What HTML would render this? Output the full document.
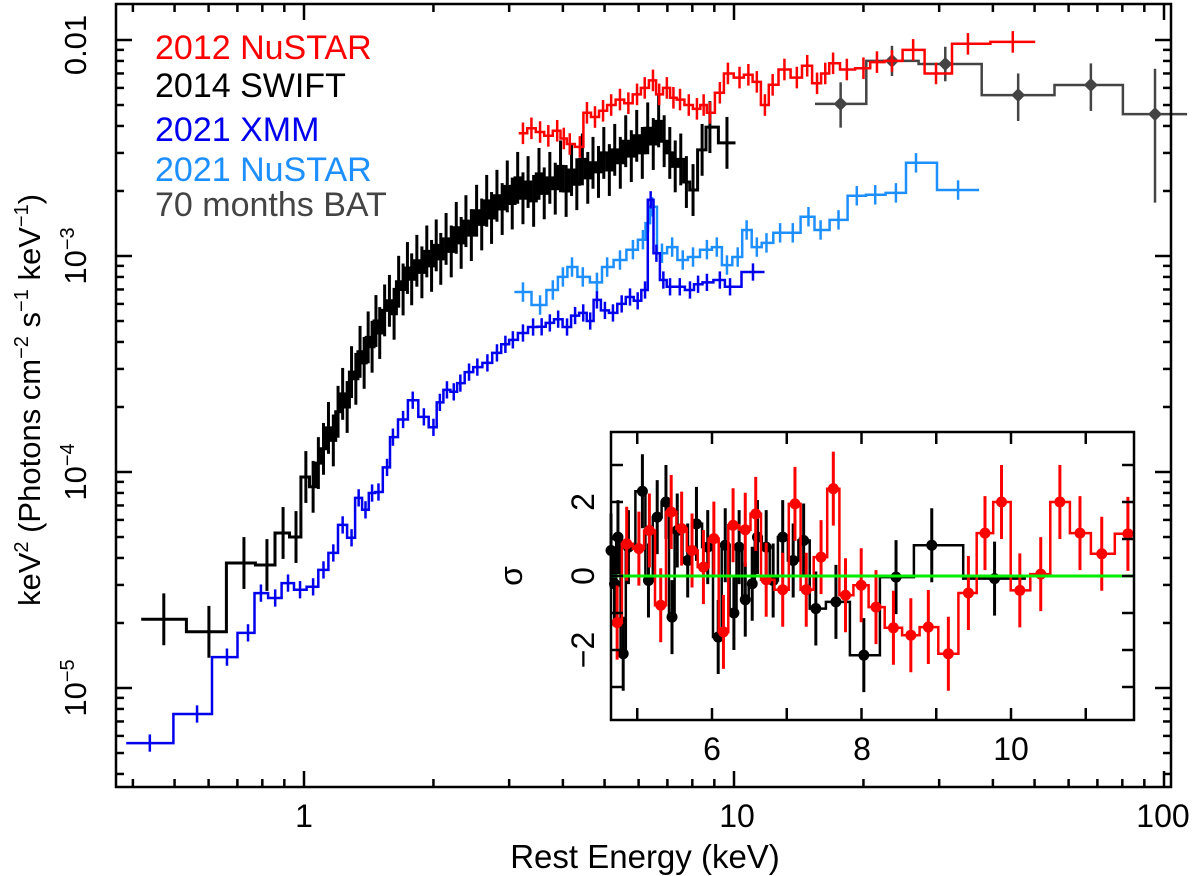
<!DOCTYPE html>
<html><head><meta charset="utf-8">
<style>
html,body{margin:0;padding:0;background:#fff;}
svg{display:block;font-family:"Liberation Sans",Arial,sans-serif;}
</style></head>
<body>
<svg id="chart" width="1200" height="876" viewBox="0 0 1200 876" xmlns="http://www.w3.org/2000/svg">
  <rect x="0" y="0" width="1200" height="876" fill="#fff"/>
  <g id="mainMarks"></g>
  <rect x="116" y="4" width="1055" height="783" fill="none" stroke="#000" stroke-width="2.5"/>
  <g id="mainTicks"></g>
  <text x="304" y="827" font-size="32" text-anchor="middle">1</text>
  <text x="737" y="827" font-size="32" text-anchor="middle">10</text>
  <text x="1163" y="827" font-size="32" text-anchor="middle">100</text>
  <text x="645" y="868" font-size="33" text-anchor="middle">Rest Energy (keV)</text>
  <text transform="translate(86,45) rotate(-90)" font-size="31" text-anchor="middle">0.01</text>
  <text transform="translate(86,256) rotate(-90)" font-size="31" text-anchor="middle">10<tspan font-size="20" dy="-12">−3</tspan></text>
  <text transform="translate(86,472) rotate(-90)" font-size="31" text-anchor="middle">10<tspan font-size="20" dy="-12">−4</tspan></text>
  <text transform="translate(86,688) rotate(-90)" font-size="31" text-anchor="middle">10<tspan font-size="20" dy="-12">−5</tspan></text>
  <text transform="translate(40,400) rotate(-90)" font-size="31" text-anchor="middle">keV<tspan font-size="20" dy="-12">2</tspan><tspan dy="12"> (Photons cm</tspan><tspan font-size="20" dy="-12">−2</tspan><tspan dy="12"> s</tspan><tspan font-size="20" dy="-12">−1</tspan><tspan dy="12"> keV</tspan><tspan font-size="20" dy="-12">−1</tspan><tspan dy="12">)</tspan></text>
  <g>
    <text x="155" y="59" font-size="34" fill="#ff0000">2012 NuSTAR</text>
    <text x="155" y="97" font-size="34" fill="#000000">2014 SWIFT</text>
    <text x="155" y="141" font-size="34" fill="#0000ee">2021 XMM</text>
    <text x="155" y="181" font-size="34" fill="#1e8fff">2021 NuSTAR</text>
    <text x="155" y="216" font-size="34" fill="#444444">70 months BAT</text>
  </g>
  <rect x="611" y="432" width="523" height="288" fill="#fff"/>
  <g id="insetMarks"></g>
  <rect x="611" y="432" width="523" height="288" fill="none" stroke="#000" stroke-width="2.5"/>
  <g id="insetTicks"></g>
  <text x="712" y="760" font-size="32" text-anchor="middle">6</text>
  <text x="862" y="760" font-size="32" text-anchor="middle">8</text>
  <text x="1011" y="760" font-size="32" text-anchor="middle">10</text>
  <text transform="translate(594,502) rotate(-90)" font-size="32" text-anchor="middle">2</text>
  <text transform="translate(594,576) rotate(-90)" font-size="32" text-anchor="middle">0</text>
  <text transform="translate(594,650) rotate(-90)" font-size="32" text-anchor="middle">−2</text>
  <text transform="translate(522,576) rotate(-90)" font-size="32" text-anchor="middle">σ</text>
</svg>
<script>
// ---- main spectrum data (energy keV, flux in 1e-3 keV^2 ph cm^-2 s^-1 keV^-1) ----
var redE = [3.23,3.38,3.54,3.70,3.88,4.02,4.15,4.38,4.55,4.75,4.96,5.18,5.43,5.68,5.95,6.20,6.48,6.70,6.98,7.23,7.49,7.85,8.20,8.50,8.79,9.27,9.68,10.3,10.8,11.3,11.8,12.3,13.1,14.0,14.8,15.6,16.3,17.0,18.3,20.0,21.5,23.3,26.1,29.5,35.0,44.5];
var redF = [3.7,3.9,3.75,3.6,3.8,3.5,3.3,3.2,4.6,4.4,4.7,5.0,5.3,5.1,5.6,6.0,6.5,5.6,6.0,5.4,5.3,5.0,4.8,5.0,4.6,5.7,7.0,6.7,6.9,6.4,5.0,6.2,7.3,6.7,7.6,6.3,7.0,7.8,7.3,7.4,7.9,8.0,9.0,7.0,9.6,9.8];
var blackE = [0.472,0.601,0.725,0.820,0.894,0.958,1.01,1.05,1.08,1.11,1.14,1.17,1.20,1.23,1.26,1.29,1.32,1.35,1.38,1.41,1.44,1.47,1.50,1.54,1.58,1.62,1.66,1.70,1.74,1.78,1.83,1.88,1.93,1.98,2.03,2.08,2.14,2.20,2.26,2.32,2.38,2.45,2.52,2.59,2.66,2.73,2.81,2.89,2.97,3.05,3.14,3.23,3.32,3.42,3.52,3.62,3.73,3.84,3.95,4.07,4.19,4.31,4.44,4.57,4.70,4.84,4.98,5.13,5.28,5.44,5.60,5.77,5.94,6.12,6.30,6.49,6.68,6.88,7.09,7.30,7.52,7.75,8.03,8.43,8.79,9.63];
var blackF = [0.0208,0.0182,0.0379,0.0371,0.0522,0.0500,0.0948,0.0854,0.110,0.128,0.160,0.140,0.190,0.230,0.200,0.290,0.270,0.360,0.320,0.420,0.380,0.500,0.440,0.560,0.620,0.540,0.760,0.700,0.880,0.780,0.950,0.840,1.05,0.900,1.12,0.970,1.20,1.05,1.35,1.15,1.45,1.25,1.62,1.40,1.80,1.50,1.90,1.65,2.10,1.75,2.30,1.85,2.20,1.80,2.40,1.95,2.30,2.05,2.60,2.00,2.50,2.15,2.80,2.30,2.70,2.45,3.00,2.50,3.10,2.70,3.40,2.90,3.60,3.00,3.90,3.30,4.20,3.40,3.00,2.60,2.80,2.20,2.02,3.10,3.95,3.34];
var blueE = [0.438,0.564,0.662,0.741,0.794,0.857,0.918,0.979,1.05,1.11,1.17,1.23,1.29,1.34,1.39,1.44,1.49,1.56,1.61,1.70,1.79,1.90,2.00,2.07,2.15,2.23,2.31,2.42,2.53,2.67,2.81,2.94,3.06,3.23,3.41,3.57,3.73,3.90,4.09,4.27,4.46,4.63,4.80,5.01,5.23,5.48,5.73,5.97,6.21,6.40,6.60,6.85,7.10,7.48,7.90,8.25,8.65,9.27,9.79,11.07];
var blueF = [0.00556,0.00758,0.0139,0.0180,0.0275,0.0261,0.0306,0.0285,0.0294,0.0352,0.0422,0.0569,0.0496,0.0759,0.0668,0.0799,0.0808,0.105,0.145,0.175,0.215,0.180,0.161,0.210,0.240,0.235,0.258,0.290,0.306,0.320,0.356,0.390,0.409,0.440,0.469,0.470,0.490,0.510,0.469,0.530,0.545,0.500,0.626,0.560,0.545,0.600,0.646,0.620,0.696,1.82,1.03,0.774,0.720,0.720,0.696,0.740,0.755,0.774,0.720,0.843];
var cyanE = [3.23,3.54,3.79,4.00,4.20,4.45,4.80,5.07,5.43,5.82,6.14,6.31,6.45,6.80,7.18,7.60,8.03,8.65,9.12,9.63,10.2,10.7,11.3,11.9,12.8,13.7,14.9,15.9,17.5,19.3,21.3,23.8,26.5,33.2];
var cyanF = [0.681,0.593,0.696,0.80,0.889,0.80,0.755,0.889,0.958,1.07,1.19,1.42,1.69,1.03,1.10,0.958,0.989,1.07,1.10,0.908,0.989,1.32,1.10,1.15,1.28,1.28,1.52,1.32,1.47,1.90,1.92,1.96,2.70,2.02];
var batE = [17.7,23.3,31.0,45.8,67.6,95.3];
var batF = [5.06,8.0,7.74,5.56,6.19,4.54];
var batErrHi = [0.10,0.07,0.08,0.10,0.10,0.21];
var batErrLo = [0.11,0.07,0.08,0.12,0.12,0.41];
// ---- inset residual data (keV, sigma) ----
var resRedE = [4.731,4.859,5.022,5.162,5.314,5.454,5.594,5.733,5.885,6.025,6.153,6.282,6.445,6.585,6.725,6.946,7.110,7.261,7.459,7.623,7.786,7.996,8.194,8.427,8.660,8.894,9.162,9.430,9.652,9.873,10.118,10.398,10.654,10.923,11.214,11.564];
var resRedS = [-1.26,0.87,0.74,1.23,-0.79,1.73,1.28,0.69,0.24,1.01,-1.51,1.37,1.25,1.68,-0.10,-0.37,1.95,-0.37,0.51,2.36,-0.52,-0.25,-0.84,-1.40,-1.60,-1.38,-2.10,-0.46,1.16,2.0,-0.39,0.05,2.0,1.16,0.60,1.14];
var resBlackE = [4.649,4.696,4.742,4.812,4.882,5.069,5.150,5.267,5.384,5.465,5.535,5.675,5.792,5.943,6.083,6.177,6.293,6.363,6.445,6.538,6.608,6.725,6.818,6.946,7.086,7.226,7.389,7.658,8.031,8.462,8.940,9.780];
var resBlackS = [0.69,-0.21,1.05,-2.10,0.78,2.29,-0.12,1.59,2.0,-1.11,1.23,0.42,1.41,0.78,-1.65,0.83,-1.0,0.78,-0.64,-0.21,1.05,0.78,-0.12,1.05,0.42,0.96,-0.88,-0.70,-2.14,-0.03,0.83,-0.07];

var NS = "http://www.w3.org/2000/svg";
var IX0 = 4.649, IX1 = 11.647;
function xE(E){ return 304 + 430*Math.log10(E); }
function yF(F){ return 256 - 216*Math.log10(F); }
function xI(E){ return 712 + (E-6)*74.75; }
function yI(s){ return 576 - 37*s; }

function mk(tag, attrs, parent){
  var el = document.createElementNS(NS, tag);
  for (var k in attrs) el.setAttribute(k, attrs[k]);
  parent.appendChild(el);
  return el;
}
function edgesLog(E){
  var ed=[];
  for (var i=0;i<E.length;i++){
    var lo = i>0 ? Math.sqrt(E[i-1]*E[i]) : E[0]*E[0]/Math.sqrt(E[0]*E[1]);
    var hi = i<E.length-1 ? Math.sqrt(E[i]*E[i+1]) : E[i]*E[i]/Math.sqrt(E[i-1]*E[i]);
    ed.push([lo,hi]);
  }
  return ed;
}
function edgesLin(E){
  var ed=[];
  for (var i=0;i<E.length;i++){
    var lo = i>0 ? (E[i-1]+E[i])/2 : E[0]-(E[1]-E[0])/2;
    var hi = i<E.length-1 ? (E[i]+E[i+1])/2 : E[i]+(E[i]-E[i-1])/2;
    ed.push([lo,hi]);
  }
  return ed;
}
var main = document.getElementById('mainMarks');
function drawSpectrum(E, F, color, errHi, errLo, name, sw){
  var g = mk('g', {}, main);
  
  
  var ed = edgesLog(E), d='';
  for (var i=0;i<E.length;i++){
    var y=yF(F[i]);
    d += (i===0?'M':'L') + xE(ed[i][0]).toFixed(1)+','+y.toFixed(1)+'L'+xE(ed[i][1]).toFixed(1)+','+y.toFixed(1);
  }
  var p = mk('path', {d:d, fill:'none', stroke:color, 'stroke-width':sw, 'stroke-linejoin':'miter'}, g);
  
  
  for (var j=0;j<E.length;j++){
    var eh = Array.isArray(errHi)?errHi[j]:errHi, el = Array.isArray(errLo)?errLo[j]:errLo;
    var x=xE(E[j]), yv=yF(F[j]);
    var ln = mk('line', {x1:x, x2:x, y1:yv-216*eh, y2:yv+216*el, stroke:color, 'stroke-width':sw}, g);
    
    
  }
  return g;
}
drawSpectrum(blackE, blackF, '#000', 0.12, 0.12, 'swift-2014-spectrum', 3);
drawSpectrum(batE, batF, '#444', batErrHi, batErrLo, 'bat-70-month-spectrum', 2.5);
var gb = main.lastChild;
for (var i=0;i<batE.length;i++){
  var cx=xE(batE[i]), cy=yF(batF[i]);
  var dm = mk('path', {d:'M'+(cx-7)+','+cy+'L'+cx+','+(cy-7)+'L'+(cx+7)+','+cy+'L'+cx+','+(cy+7)+'Z', fill:'#444'}, gb);
  
  
}
drawSpectrum(redE, redF, '#ff0000', 0.05, 0.05, 'nustar-2012-spectrum', 2.5);
drawSpectrum(cyanE, cyanF, '#1e8fff', 0.045, 0.045, 'nustar-2021-spectrum', 2.5);
drawSpectrum(blueE, blueF, '#0000ee', 0.04, 0.04, 'xmm-2021-spectrum', 2.5);

// main ticks
var mt = document.getElementById('mainTicks');
function tick(x1,y1,x2,y2,name){
  var t = mk('line', {x1:x1,y1:y1,x2:x2,y2:y2,stroke:'#000','stroke-width':2.5}, mt);
  
  
}
for (var dec=-1; dec<=2; dec++){
  for (var m=1;m<10;m++){
    var v = m*Math.pow(10,dec); var x=xE(v);
    if (x<117 || x>1170) continue;
    var L = m===1?16:8;
    tick(x,787,x,787-L,'x-tick');
    tick(x,4,x,4+L,'x-tick-top');
  }
}
for (var dy=-6; dy<=-2; dy++){
  for (var m2=1;m2<10;m2++){
    var fv = m2*Math.pow(10,dy+3); var y=yF(fv);
    if (y<5 || y>786) continue;
    var L2 = m2===1?16:8;
    tick(116,y,116+L2,y,'y-tick');
    tick(1171,y,1171-L2,y,'y-tick-right');
  }
}

// inset
var ins = document.getElementById('insetMarks');
function drawResid(E, S, color, name){
  var g = mk('g', {}, ins);
  
  
  var ed = edgesLin(E), d='';
  for (var i=0;i<E.length;i++){
    var y=yI(S[i]);
    d += (i===0?'M':'L') + xI(Math.max(ed[i][0],IX0)).toFixed(1)+','+y.toFixed(1)+'L'+xI(Math.min(ed[i][1],IX1)).toFixed(1)+','+y.toFixed(1);
  }
  var p = mk('path', {d:d, fill:'none', stroke:color, 'stroke-width':2.5}, g);
  
  
  for (var j=0;j<E.length;j++){
    var x=xI(E[j]), yv=yI(S[j]);
    var ln = mk('line', {x1:x,x2:x,y1:Math.max(yv-37,433),y2:Math.min(yv+37,719),stroke:color,'stroke-width':3}, g);
    
    
    var c = mk('circle', {cx:x, cy:yv, r:5.5, fill:color}, g);
    
    
  }
}
drawResid(resBlackE, resBlackS, '#000', 'swift-residuals');
drawResid(resRedE, resRedS, '#ff0000', 'nustar-residuals');
var zl = mk('line', {x1:611, x2:1134, y1:yI(0), y2:yI(0), stroke:'#00ee00', 'stroke-width':3}, ins);



var it = document.getElementById('insetTicks');
function itick(x1,y1,x2,y2,name){
  var t = mk('line', {x1:x1,y1:y1,x2:x2,y2:y2,stroke:'#000','stroke-width':2.5}, it);
  
  
}
for (var k=5;k<=11;k++){
  var xx=xI(k); if (xx<612||xx>1133) continue;
  itick(xx,720,xx,708,'inset-x-tick');
  itick(xx,432,xx,444,'inset-x-tick-top');
}
for (var s=-3;s<=3;s++){
  var yy=yI(s);
  itick(611,yy,623,yy,'inset-y-tick');
  itick(1134,yy,1122,yy,'inset-y-tick-right');
}
</script>
</body></html>
